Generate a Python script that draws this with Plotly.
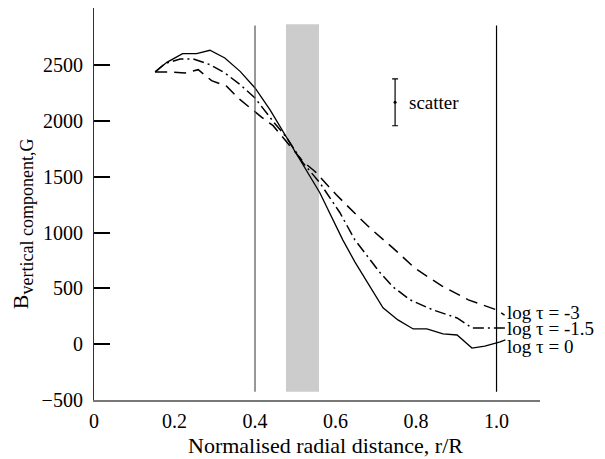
import plotly.graph_objects as go

# log tau = 0 (solid)
r_0 = [0.152, 0.181, 0.220, 0.255, 0.288, 0.325, 0.363, 0.400, 0.437, 0.482, 0.512, 0.561,
       0.618, 0.648, 0.718, 0.755, 0.793, 0.827, 0.867, 0.902, 0.939, 0.971, 1.009, 1.022]
b_0 = [2442, 2528, 2606, 2606, 2636, 2567, 2447, 2298, 2103, 1834, 1655, 1358,
       936, 739, 326, 218, 137, 137, 92, 83, -34, -16, 21, 40]

# log tau = -1.5 (dash-dot)
r_15 = [0.152, 0.176, 0.214, 0.247, 0.288, 0.325, 0.363, 0.400, 0.445, 0.479, 0.519, 0.561,
        0.611, 0.648, 0.711, 0.743, 0.785, 0.842, 0.902, 0.939, 1.001, 1.022]
b_15 = [2442, 2516, 2558, 2558, 2507, 2433, 2328, 2208, 1998, 1852, 1627, 1448,
        1179, 936, 640, 514, 398, 308, 236, 146, 146, 146]

# log tau = -3 (dashed)
r_3 = [0.152, 0.185, 0.226, 0.259, 0.292, 0.330, 0.358, 0.383, 0.417, 0.445, 0.519, 0.549,
       0.602, 0.656, 0.685, 0.743, 0.797, 0.864, 0.930, 1.000, 1.020]
b_3 = [2442, 2442, 2433, 2462, 2364, 2312, 2208, 2133, 2034, 1960, 1639, 1549,
       1340, 1145, 1044, 862, 682, 523, 398, 308, 260]

labels = ["log τ = -3", "log τ = -1.5", "log τ = 0"]
label_y = [285, 140, -22]
label_x = 1.021

scatter_x = [0.748]
scatter_y = [2169]
scatter_err = [210]

vlines_x = [0.4, 1.0]
vline_y = [-425, 2857]
band_x = [0.477, 0.559]
band_y = [-425, 2870]

xtick_vals = [0, 0.2, 0.4, 0.6, 0.8, 1.0]
xtick_text = ["0", "0.2", "0.4", "0.6", "0.8", "1.0"]
ytick_vals = [-500, 0, 500, 1000, 1500, 2000, 2500]

FONT = "Liberation Serif"

fig = go.Figure()

fig.add_shape(type="rect", x0=band_x[0], x1=band_x[1], y0=band_y[0], y1=band_y[1],
              xref="x", yref="y", fillcolor="#cccccc", line_width=0, layer="below")
fig.add_shape(type="line", x0=vlines_x[0], x1=vlines_x[0], y0=vline_y[0], y1=vline_y[1],
              xref="x", yref="y", line=dict(color="#555555", width=1.2))
fig.add_shape(type="line", x0=vlines_x[1], x1=vlines_x[1], y0=vline_y[0], y1=vline_y[1],
              xref="x", yref="y", line=dict(color="#000000", width=1.2))

fig.add_trace(go.Scatter(x=r_3, y=b_3, mode="lines",
                         line=dict(color="black", width=1.5, dash="12px,7px")))
fig.add_trace(go.Scatter(x=r_15, y=b_15, mode="lines",
                         line=dict(color="black", width=1.5, dash="11px,4px,2px,4px")))
fig.add_trace(go.Scatter(x=r_0, y=b_0, mode="lines",
                         line=dict(color="black", width=1.3)))

fig.add_trace(go.Scatter(x=scatter_x, y=scatter_y, mode="markers",
                         marker=dict(color="black", size=3),
                         error_y=dict(type="data", array=scatter_err, color="black",
                                      thickness=1.2, width=3)))

fig.add_annotation(x=scatter_x[0], y=scatter_y[0], text="scatter", showarrow=False,
                   xanchor="left", xshift=12, font=dict(family=FONT, size=19, color="black"))

for t, yv in zip(labels, label_y):
    fig.add_annotation(x=label_x, y=yv, text=t, showarrow=False, xanchor="left",
                       font=dict(family=FONT, size=19, color="black"))

fig.add_annotation(x=0.518, y=-0.117, xref="paper", yref="paper", xanchor="center",
                   yanchor="middle",
                   text="Normalised radial distance, r/R", showarrow=False,
                   font=dict(family=FONT, size=22, color="black"))
fig.add_annotation(x=-0.16, y=0.45, xref="paper", yref="paper", textangle=-90,
                   xanchor="center", yanchor="middle",
                   text="B<sub><span style='font-size:18px'>vertical component,G</span></sub>",
                   showarrow=False, font=dict(family=FONT, size=22, color="black"))

fig.update_layout(
    width=597, height=451,
    margin=dict(l=86, r=65, t=0, b=59),
    paper_bgcolor="white", plot_bgcolor="white",
    showlegend=False,
    font=dict(family=FONT, color="black"),
    xaxis=dict(range=[0, 1.108], tickvals=xtick_vals, ticktext=xtick_text,
               showgrid=False, zeroline=False, showline=True, linecolor="#777777",
               linewidth=1.5, ticks="", tickfont=dict(family=FONT, size=20),
               ticklabelstandoff=2),
    yaxis=dict(range=[-500, 3015], tickvals=ytick_vals, showgrid=False, zeroline=False,
               showline=True, linecolor="#333333", linewidth=1.2, ticks="inside",
               ticklen=16, tickwidth=1.5, tickcolor="black",
               tickfont=dict(family=FONT, size=20), ticklabelstandoff=6),
)

fig.write_html("out.html")
